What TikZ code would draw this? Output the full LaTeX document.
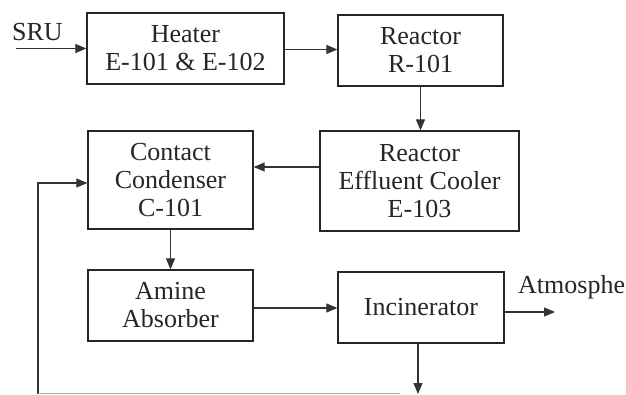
\documentclass[tikz,border=0pt]{standalone}
\usepackage{fontspec}
\setmainfont{Liberation Serif}
\usetikzlibrary{arrows.meta}
\begin{document}
\begin{tikzpicture}[x=1pt,y=-1pt,
  unit/.style={draw=black!85, line width=1.3pt, align=center, inner sep=0pt,
    font=\fontsize{26}{28}\selectfont, text=black!85},
  lbl/.style={font=\fontsize{26}{28}\selectfont, text=black!85, inner sep=0pt},
  flow/.style={draw=black!80, line width=1.1pt, -{Triangle[length=11pt,width=9pt]}},
  plain/.style={draw=black!80, line width=1.1pt}]
\useasboundingbox (0,0) rectangle (626,394);
\fill[white] (0,0) rectangle (626,394);

\node[unit, minimum width=197pt, minimum height=71pt] (heater) at (185.5,48.5) {Heater\\E-101 \& E-102};
\node[unit, minimum width=165pt, minimum height=71pt] (reactor) at (420.5,50.5) {Reactor\\R-101};
\node[unit, minimum width=199pt, minimum height=100pt] (cooler) at (419.5,181) {Reactor\\Effluent Cooler\\E-103};
\node[unit, minimum width=165pt, minimum height=98pt] (condenser) at (170.5,180) {Contact\\Condenser\\C-101};
\node[unit, minimum width=165pt, minimum height=71pt] (amine) at (170.5,305.5) {Amine\\Absorber};
\node[unit, minimum width=166pt, minimum height=71pt] (incin) at (421,307.5) {Incinerator};

\node[lbl, anchor=base west] (sru) at (12,40) {SRU};
\node[lbl, anchor=base west] (atmtext) at (518,293) {Atmosphe};

\coordinate (srustart) at (16,48.5);
\coordinate (hr) at (0,49.5);
\coordinate (cc) at (0,167);
\coordinate (ai) at (0,308);
\coordinate (atm) at (555,312);
\coordinate (out) at (418,394);
\coordinate (fbbot) at (38,394);
\coordinate (fbtop) at (38,183);
\coordinate (fbend) at (400,393.5);

\draw[flow] (srustart) -- (heater.west);
\draw[flow] (heater.east |- hr) -- (reactor.west |- hr);
\draw[flow] (reactor.south) -- (reactor.south |- cooler.north);
\draw[flow] (cooler.west |- cc) -- (condenser.east |- cc);
\draw[flow] (condenser.south) -- (amine.north);
\draw[flow] (amine.east |- ai) -- (incin.west |- ai);
\draw[flow] (incin.east |- atm) -- (atm);
\draw[flow] (incin.south -| out) -- (out);
\draw[flow] (fbbot) -- (fbtop) -- (condenser.west |- fbtop);
\draw[draw=black!35, line width=0.8pt] (fbbot |- fbend) -- (fbend);
\end{tikzpicture}
\end{document}
